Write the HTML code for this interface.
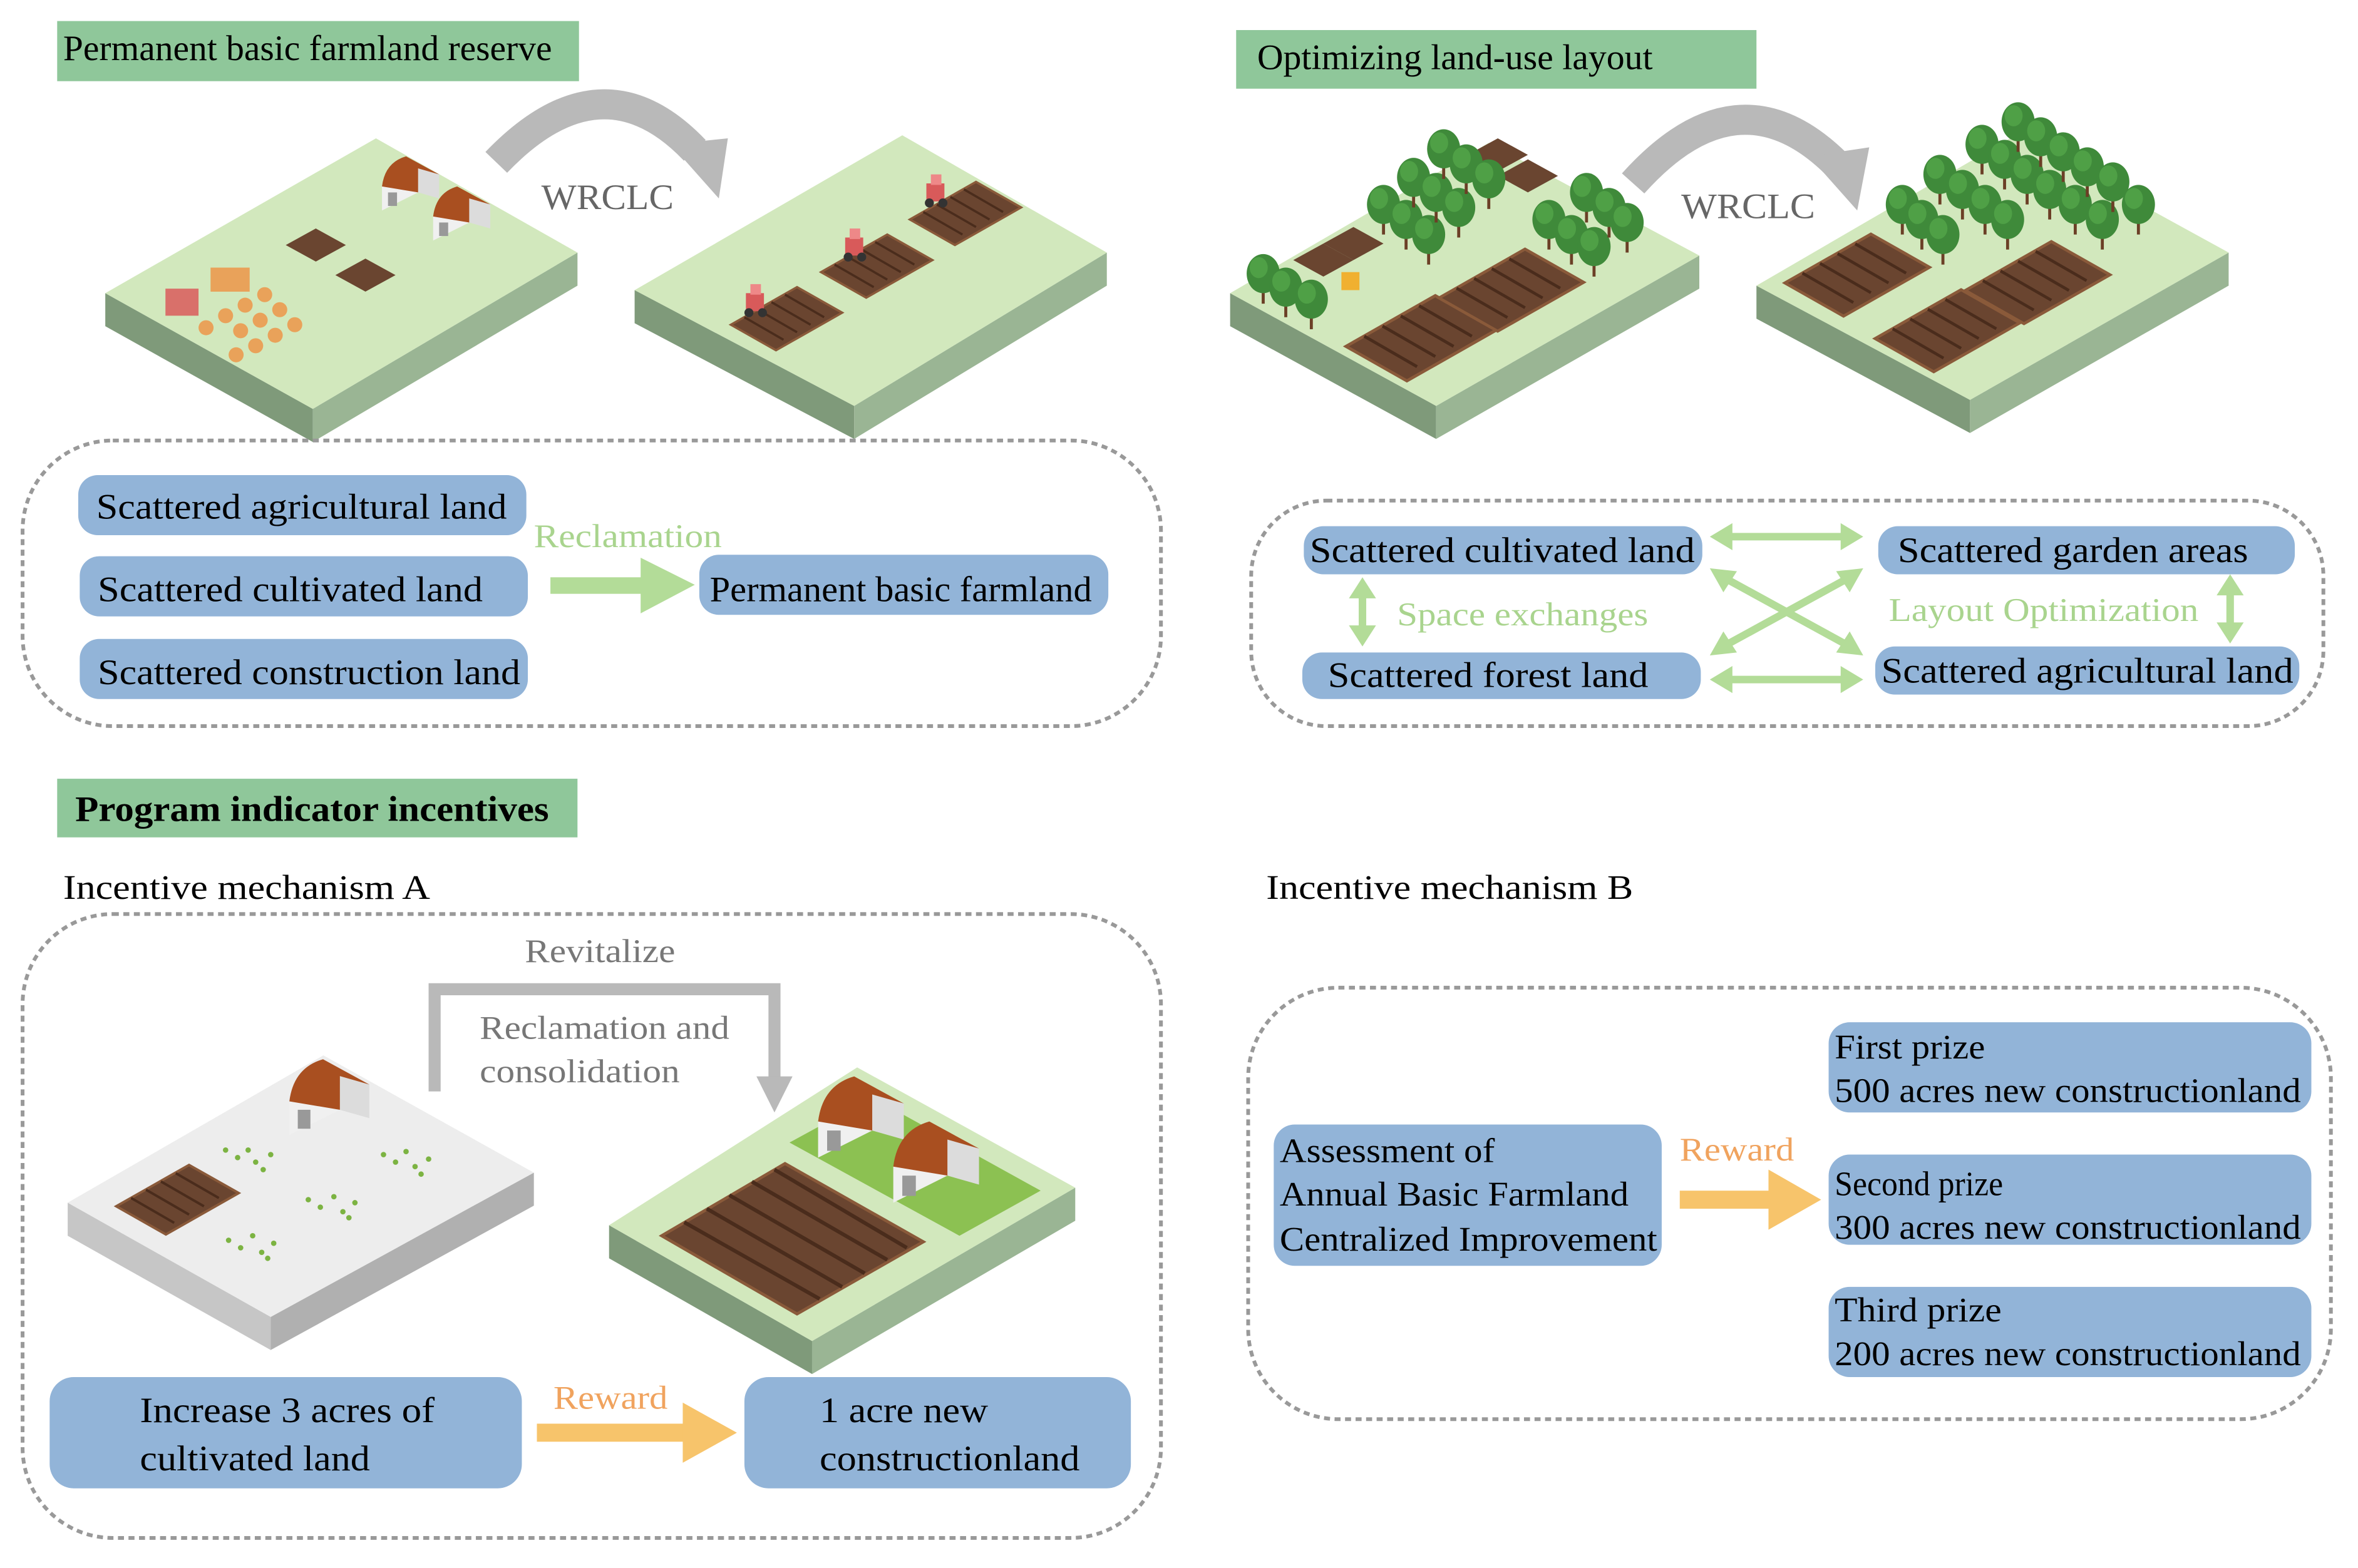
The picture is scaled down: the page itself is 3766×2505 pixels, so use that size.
<!DOCTYPE html>
<html><head><meta charset="utf-8"><style>
html,body{margin:0;padding:0;background:#fff}
svg{display:block}
text{font-family:"Liberation Serif","Times New Roman",serif;}
</style></head><body>
<svg width="3766" height="2505" viewBox="0 0 1568 1043" xmlns="http://www.w3.org/2000/svg" font-family="Liberation Serif, Times New Roman, serif">
<defs>
<g id="field">
<polygon points="-37,4 7,-21 37,-4 -7,21" fill="#6a4530" stroke="#8a5a3a" stroke-width="1.5"/>
<path d="M-28,-1 L-2,14 M-19,-6 L7,9 M-10,-11 L16,4 M-1,-16 L25,-1" stroke="#4a2c1c" stroke-width="1.5"/>
</g>
<g id="sq"><polygon points="-20,0 0,-11 20,0 0,11" fill="#6a4530"/></g>
<g id="tree"><line x1="0" y1="0" x2="0" y2="16" stroke="#6b3f26" stroke-width="2"/><ellipse cx="0" cy="-4" rx="11" ry="13" fill="#3f8a3a"/><ellipse cx="-3" cy="-8" rx="6" ry="7" fill="#4fa046"/></g>
<g id="barn"><polygon points="-14,0 -14,-16 10,-28 10,-12" fill="#f0f0f0"/><path d="M-14,-16 Q-12,-32 2,-36 L24,-24 Q14,-22 10,-12 Z" fill="#a94f20"/><polygon points="10,-12 10,-28 24,-24 24,-8" fill="#dcdcdc"/><rect x="-10" y="-12" width="6" height="9" fill="#999"/></g>
<g id="tractor"><rect x="-6" y="-10" width="12" height="12" fill="#d85a5a"/><rect x="-3" y="-16" width="7" height="7" fill="#e88"/><circle cx="-4" cy="3" r="3" fill="#333"/><circle cx="5" cy="3" r="3" fill="#333"/></g>
</defs>

<!-- titles -->
<rect x="38" y="14" width="347" height="40" fill="#8fc79a"/>
<text x="42" y="40" font-size="24" textLength="325" lengthAdjust="spacingAndGlyphs">Permanent basic farmland reserve</text>
<rect x="822" y="20" width="346" height="39" fill="#8fc79a"/>
<text x="836" y="46" font-size="24" textLength="263" lengthAdjust="spacingAndGlyphs">Optimizing land-use layout</text>
<rect x="38" y="518" width="346" height="39" fill="#8fc79a"/>
<text x="50" y="546" font-size="24" font-weight="bold" textLength="315" lengthAdjust="spacingAndGlyphs">Program indicator incentives</text>

<!-- platform 1 -->
<polygon points="70,195 208,272 208,294 70,217" fill="#7f9a7a"/>
<polygon points="208,272 384,168 384,190 208,294" fill="#9ab594"/>
<polygon points="250,92 384,168 208,272 70,195" fill="#d2e8bd"/>
<use href="#sq" x="210" y="163"/><use href="#sq" x="243" y="183"/>
<use href="#barn" x="268" y="140"/><use href="#barn" x="302" y="160"/>
<g fill="#e9a25a"><rect x="140" y="178" width="26" height="16"/><rect x="110" y="192" width="22" height="18" fill="#d9706a"/>
<circle cx="150" cy="210" r="5"/><circle cx="163" cy="203" r="5"/><circle cx="176" cy="196" r="5"/><circle cx="160" cy="220" r="5"/><circle cx="173" cy="213" r="5"/><circle cx="186" cy="206" r="5"/><circle cx="170" cy="230" r="5"/><circle cx="183" cy="223" r="5"/><circle cx="196" cy="216" r="5"/><circle cx="137" cy="218" r="5"/><circle cx="157" cy="236" r="5"/></g>

<!-- platform 2 -->
<polygon points="422,193 568,270 568,292 422,215" fill="#7f9a7a"/>
<polygon points="568,270 736,168 736,190 568,292" fill="#9ab594"/>
<polygon points="600,90 736,168 568,270 422,193" fill="#d2e8bd"/>
<use href="#field" x="523" y="212"/><use href="#field" x="583" y="177"/><use href="#field" x="642" y="142"/>
<use href="#tractor" x="502" y="205"/><use href="#tractor" x="568" y="168"/><use href="#tractor" x="622" y="132"/>

<!-- WRCLC arrows -->
<path d="M330,108 Q400,35 462,100" fill="none" stroke="#b9b9b9" stroke-width="20"/>
<polygon points="446,96 484,92 478,132" fill="#b9b9b9"/>
<text x="360" y="139" font-size="24" fill="#666" textLength="88" lengthAdjust="spacingAndGlyphs">WRCLC</text>
<path d="M1086,122 Q1155,45 1220,108" fill="none" stroke="#b9b9b9" stroke-width="20"/>
<polygon points="1203,104 1243,98 1235,140" fill="#b9b9b9"/>
<text x="1118" y="145" font-size="24" fill="#666" textLength="89" lengthAdjust="spacingAndGlyphs">WRCLC</text>

<!-- platform 3 -->
<polygon points="818,195 955,270 955,292 818,217" fill="#7f9a7a"/>
<polygon points="955,270 1130,170 1130,192 955,292" fill="#9ab594"/>
<polygon points="990,95 1130,170 955,270 818,195" fill="#d2e8bd"/>
<use href="#sq" x="996" y="103"/><use href="#sq" x="1016" y="117"/><use href="#sq" x="900" y="162"/><use href="#sq" x="880" y="173"/>
<rect x="892" y="181" width="12" height="12" fill="#f0b030"/>
<g transform="translate(945,225) scale(1.35)"><use href="#field"/></g>
<g transform="translate(1005,193) scale(1.3)"><use href="#field"/></g>
<use href="#tree" x="840" y="186"/><use href="#tree" x="855" y="195"/><use href="#tree" x="872" y="203"/>
<use href="#tree" x="920" y="140"/><use href="#tree" x="935" y="150"/><use href="#tree" x="950" y="160"/>
<use href="#tree" x="940" y="122"/><use href="#tree" x="955" y="132"/><use href="#tree" x="970" y="142"/>
<use href="#tree" x="960" y="103"/><use href="#tree" x="975" y="113"/><use href="#tree" x="990" y="123"/>
<use href="#tree" x="1030" y="150"/><use href="#tree" x="1045" y="160"/><use href="#tree" x="1060" y="168"/>
<use href="#tree" x="1055" y="132"/><use href="#tree" x="1070" y="142"/><use href="#tree" x="1082" y="152"/>

<!-- platform 4 -->
<polygon points="1168,190 1310,266 1310,288 1168,212" fill="#7f9a7a"/>
<polygon points="1310,266 1482,168 1482,190 1310,288" fill="#9ab594"/>
<polygon points="1340,90 1482,168 1310,266 1168,190" fill="#d2e8bd"/>
<g transform="translate(1235,183) scale(1.3)"><use href="#field"/></g>
<g transform="translate(1295,220) scale(1.3)"><use href="#field"/></g>
<g transform="translate(1355,188) scale(1.3)"><use href="#field"/></g>
<use href="#tree" x="1265" y="140"/><use href="#tree" x="1278" y="150"/><use href="#tree" x="1292" y="160"/>
<use href="#tree" x="1290" y="120"/><use href="#tree" x="1305" y="130"/><use href="#tree" x="1320" y="140"/><use href="#tree" x="1335" y="150"/>
<use href="#tree" x="1318" y="100"/><use href="#tree" x="1333" y="110"/><use href="#tree" x="1348" y="120"/><use href="#tree" x="1363" y="130"/><use href="#tree" x="1380" y="140"/><use href="#tree" x="1398" y="150"/>
<use href="#tree" x="1342" y="85"/><use href="#tree" x="1357" y="95"/><use href="#tree" x="1372" y="105"/><use href="#tree" x="1388" y="115"/><use href="#tree" x="1405" y="125"/><use href="#tree" x="1422" y="140"/>

<!-- dashed boxes -->
<g fill="none" stroke="#999" stroke-width="2.5" stroke-dasharray="4,3">
<rect x="15" y="293" width="757" height="190" rx="60"/>
<rect x="832" y="333" width="713" height="150" rx="50"/>
<rect x="15" y="608" width="757" height="415" rx="60"/>
<rect x="830" y="657" width="720" height="287" rx="60"/>
</g>

<!-- box 1 content -->
<g fill="#92b4d8">
<rect x="52" y="316" width="298" height="40" rx="13"/>
<rect x="53" y="370" width="298" height="40" rx="13"/>
<rect x="53" y="425" width="298" height="40" rx="13"/>
<rect x="465" y="369" width="272" height="40" rx="13"/>
</g>
<g font-size="24">
<text x="64" y="345" textLength="273" lengthAdjust="spacingAndGlyphs">Scattered agricultural land</text>
<text x="65" y="400" textLength="256" lengthAdjust="spacingAndGlyphs">Scattered cultivated land</text>
<text x="65" y="455" textLength="281" lengthAdjust="spacingAndGlyphs">Scattered construction land</text>
<text x="472" y="400" textLength="254" lengthAdjust="spacingAndGlyphs">Permanent basic farmland</text>
</g>
<text x="355" y="364" font-size="22" fill="#a9d48e" textLength="125" lengthAdjust="spacingAndGlyphs">Reclamation</text>
<rect x="366" y="384" width="64" height="11" fill="#b3dc98"/>
<polygon points="426,371 462,389 426,408" fill="#b3dc98"/>

<!-- box 2 content -->
<g fill="#92b4d8">
<rect x="867" y="350" width="265" height="32" rx="13"/>
<rect x="1249" y="350" width="277" height="32" rx="13"/>
<rect x="866" y="434" width="265" height="31" rx="13"/>
<rect x="1247" y="430" width="282" height="32" rx="13"/>
</g>
<g font-size="24">
<text x="871" y="374" textLength="256" lengthAdjust="spacingAndGlyphs">Scattered cultivated land</text>
<text x="1262" y="374" textLength="233" lengthAdjust="spacingAndGlyphs">Scattered garden areas</text>
<text x="883" y="457" textLength="213" lengthAdjust="spacingAndGlyphs">Scattered forest land</text>
<text x="1251" y="454" textLength="274" lengthAdjust="spacingAndGlyphs">Scattered agricultural land</text>
</g>
<g font-size="22" fill="#a9d48e">
<text x="929" y="416" textLength="167" lengthAdjust="spacingAndGlyphs">Space exchanges</text>
<text x="1256" y="413" textLength="206" lengthAdjust="spacingAndGlyphs">Layout Optimization</text>
</g>
<g stroke="#b3dc98" stroke-width="5" fill="none">
<line x1="1148" y1="357" x2="1228" y2="357"/>
<line x1="1148" y1="452" x2="1228" y2="452"/>
<line x1="1146" y1="384" x2="1230" y2="430"/>
<line x1="1146" y1="430" x2="1230" y2="384"/>
<line x1="906" y1="394" x2="906" y2="420"/>
<line x1="1483" y1="392" x2="1483" y2="418"/>
</g>
<g fill="#b3dc98">
<polygon points="1137,357 1152,348 1152,366"/><polygon points="1239,357 1224,348 1224,366"/>
<polygon points="1137,452 1152,443 1152,461"/><polygon points="1239,452 1224,443 1224,461"/>
<polygon points="1137,378 1155,380 1146,394"/><polygon points="1239,436 1221,434 1230,420"/>
<polygon points="1137,436 1146,420 1155,434"/><polygon points="1239,378 1230,394 1221,380"/>
<polygon points="906,384 897,398 915,398"/><polygon points="906,430 897,416 915,416"/>
<polygon points="1483,382 1474,396 1492,396"/><polygon points="1483,428 1474,414 1492,414"/>
</g>

<!-- section 3 -->
<text x="42" y="598" font-size="23" textLength="244" lengthAdjust="spacingAndGlyphs">Incentive mechanism A</text>
<text x="842" y="598" font-size="23" textLength="244" lengthAdjust="spacingAndGlyphs">Incentive mechanism B</text>
<text x="349" y="640" font-size="22" fill="#777" textLength="100" lengthAdjust="spacingAndGlyphs">Revitalize</text>
<path d="M289,726 L289,658 L515,658 L515,718" fill="none" stroke="#b9b9b9" stroke-width="8"/>
<polygon points="503,716 527,716 515,740" fill="#b9b9b9"/>
<text x="319" y="691" font-size="22" fill="#777" textLength="166" lengthAdjust="spacingAndGlyphs">Reclamation and</text>
<text x="319" y="720" font-size="22" fill="#777" textLength="133" lengthAdjust="spacingAndGlyphs">consolidation</text>

<!-- platform 5 gray -->
<polygon points="45,800 180,876 180,898 45,822" fill="#c6c6c6"/>
<polygon points="180,876 355,780 355,802 180,898" fill="#b0b0b0"/>
<polygon points="215,702 355,780 180,876 45,800" fill="#ededed"/>
<g transform="translate(118,798) scale(1.1)"><use href="#field"/></g>
<g transform="translate(212,755) scale(1.4)"><use href="#barn"/></g>
<g fill="#7cb342">
<circle cx="150" cy="765" r="1.8"/><circle cx="158" cy="770" r="1.8"/><circle cx="165" cy="765" r="1.8"/><circle cx="170" cy="773" r="1.8"/><circle cx="180" cy="768" r="1.8"/><circle cx="175" cy="778" r="1.8"/>
<circle cx="255" cy="768" r="1.8"/><circle cx="263" cy="773" r="1.8"/><circle cx="270" cy="766" r="1.8"/><circle cx="276" cy="776" r="1.8"/><circle cx="285" cy="771" r="1.8"/><circle cx="280" cy="781" r="1.8"/>
<circle cx="205" cy="798" r="1.8"/><circle cx="213" cy="803" r="1.8"/><circle cx="222" cy="796" r="1.8"/><circle cx="228" cy="806" r="1.8"/><circle cx="236" cy="800" r="1.8"/><circle cx="232" cy="810" r="1.8"/>
<circle cx="152" cy="825" r="1.8"/><circle cx="160" cy="830" r="1.8"/><circle cx="168" cy="822" r="1.8"/><circle cx="174" cy="833" r="1.8"/><circle cx="182" cy="827" r="1.8"/><circle cx="178" cy="837" r="1.8"/>
</g>

<!-- platform 6 -->
<polygon points="405,815 540,892 540,914 405,837" fill="#7f9a7a"/>
<polygon points="540,892 715,790 715,812 540,914" fill="#9ab594"/>
<polygon points="570,710 715,790 540,892 405,815" fill="#d2e8bd"/>
<polygon points="525,760 580,730 692,792 638,822" fill="#8cc152"/>
<polygon points="440,822 522,774 614,826 530,874" fill="#6a4530" stroke="#8a5a3a" stroke-width="2"/>
<path d="M455,813 L545,864 M470,804 L560,856 M485,795 L575,847 M500,786 L590,838 M515,778 L603,830" stroke="#4a2c1c" stroke-width="2.5"/>
<g transform="translate(565,770) scale(1.5)"><use href="#barn"/></g>
<g transform="translate(615,800) scale(1.5)"><use href="#barn"/></g>

<!-- A boxes -->
<g fill="#92b4d8">
<rect x="33" y="916" width="314" height="74" rx="16"/>
<rect x="495" y="916" width="257" height="74" rx="16"/>
</g>
<g font-size="24">
<text x="93" y="946" textLength="196" lengthAdjust="spacingAndGlyphs">Increase 3 acres of</text>
<text x="93" y="978" textLength="153" lengthAdjust="spacingAndGlyphs">cultivated land</text>
<text x="545" y="946" textLength="112" lengthAdjust="spacingAndGlyphs">1 acre new</text>
<text x="545" y="978" textLength="173" lengthAdjust="spacingAndGlyphs">constructionland</text>
</g>
<text x="368" y="937" font-size="22" fill="#f0a35e" textLength="76" lengthAdjust="spacingAndGlyphs">Reward</text>
<rect x="357" y="947" width="100" height="12" fill="#f7c46b"/>
<polygon points="454,933 490,953 454,973" fill="#f7c46b"/>

<!-- B -->
<g fill="#92b4d8">
<rect x="847" y="748" width="258" height="94" rx="14"/>
<rect x="1216" y="680" width="321" height="60" rx="14"/>
<rect x="1216" y="768" width="321" height="60" rx="14"/>
<rect x="1216" y="856" width="321" height="60" rx="14"/>
</g>
<g font-size="23">
<text x="851" y="773" textLength="143" lengthAdjust="spacingAndGlyphs">Assessment of</text>
<text x="851" y="802" textLength="232" lengthAdjust="spacingAndGlyphs">Annual Basic Farmland</text>
<text x="851" y="832" textLength="251" lengthAdjust="spacingAndGlyphs">Centralized Improvement</text>
<text x="1220" y="704" textLength="100" lengthAdjust="spacingAndGlyphs">First prize</text>
<text x="1220" y="733" textLength="310" lengthAdjust="spacingAndGlyphs">500 acres new constructionland</text>
<text x="1220" y="795" textLength="112" lengthAdjust="spacingAndGlyphs">Second prize</text>
<text x="1220" y="824" textLength="310" lengthAdjust="spacingAndGlyphs">300 acres new constructionland</text>
<text x="1220" y="879" textLength="111" lengthAdjust="spacingAndGlyphs">Third prize</text>
<text x="1220" y="908" textLength="310" lengthAdjust="spacingAndGlyphs">200 acres new constructionland</text>
</g>
<text x="1117" y="772" font-size="22" fill="#f0a35e" textLength="76" lengthAdjust="spacingAndGlyphs">Reward</text>
<rect x="1117" y="792" width="62" height="12" fill="#f7c46b"/>
<polygon points="1176,778 1211,798 1176,818" fill="#f7c46b"/>
</svg>
</body></html>
